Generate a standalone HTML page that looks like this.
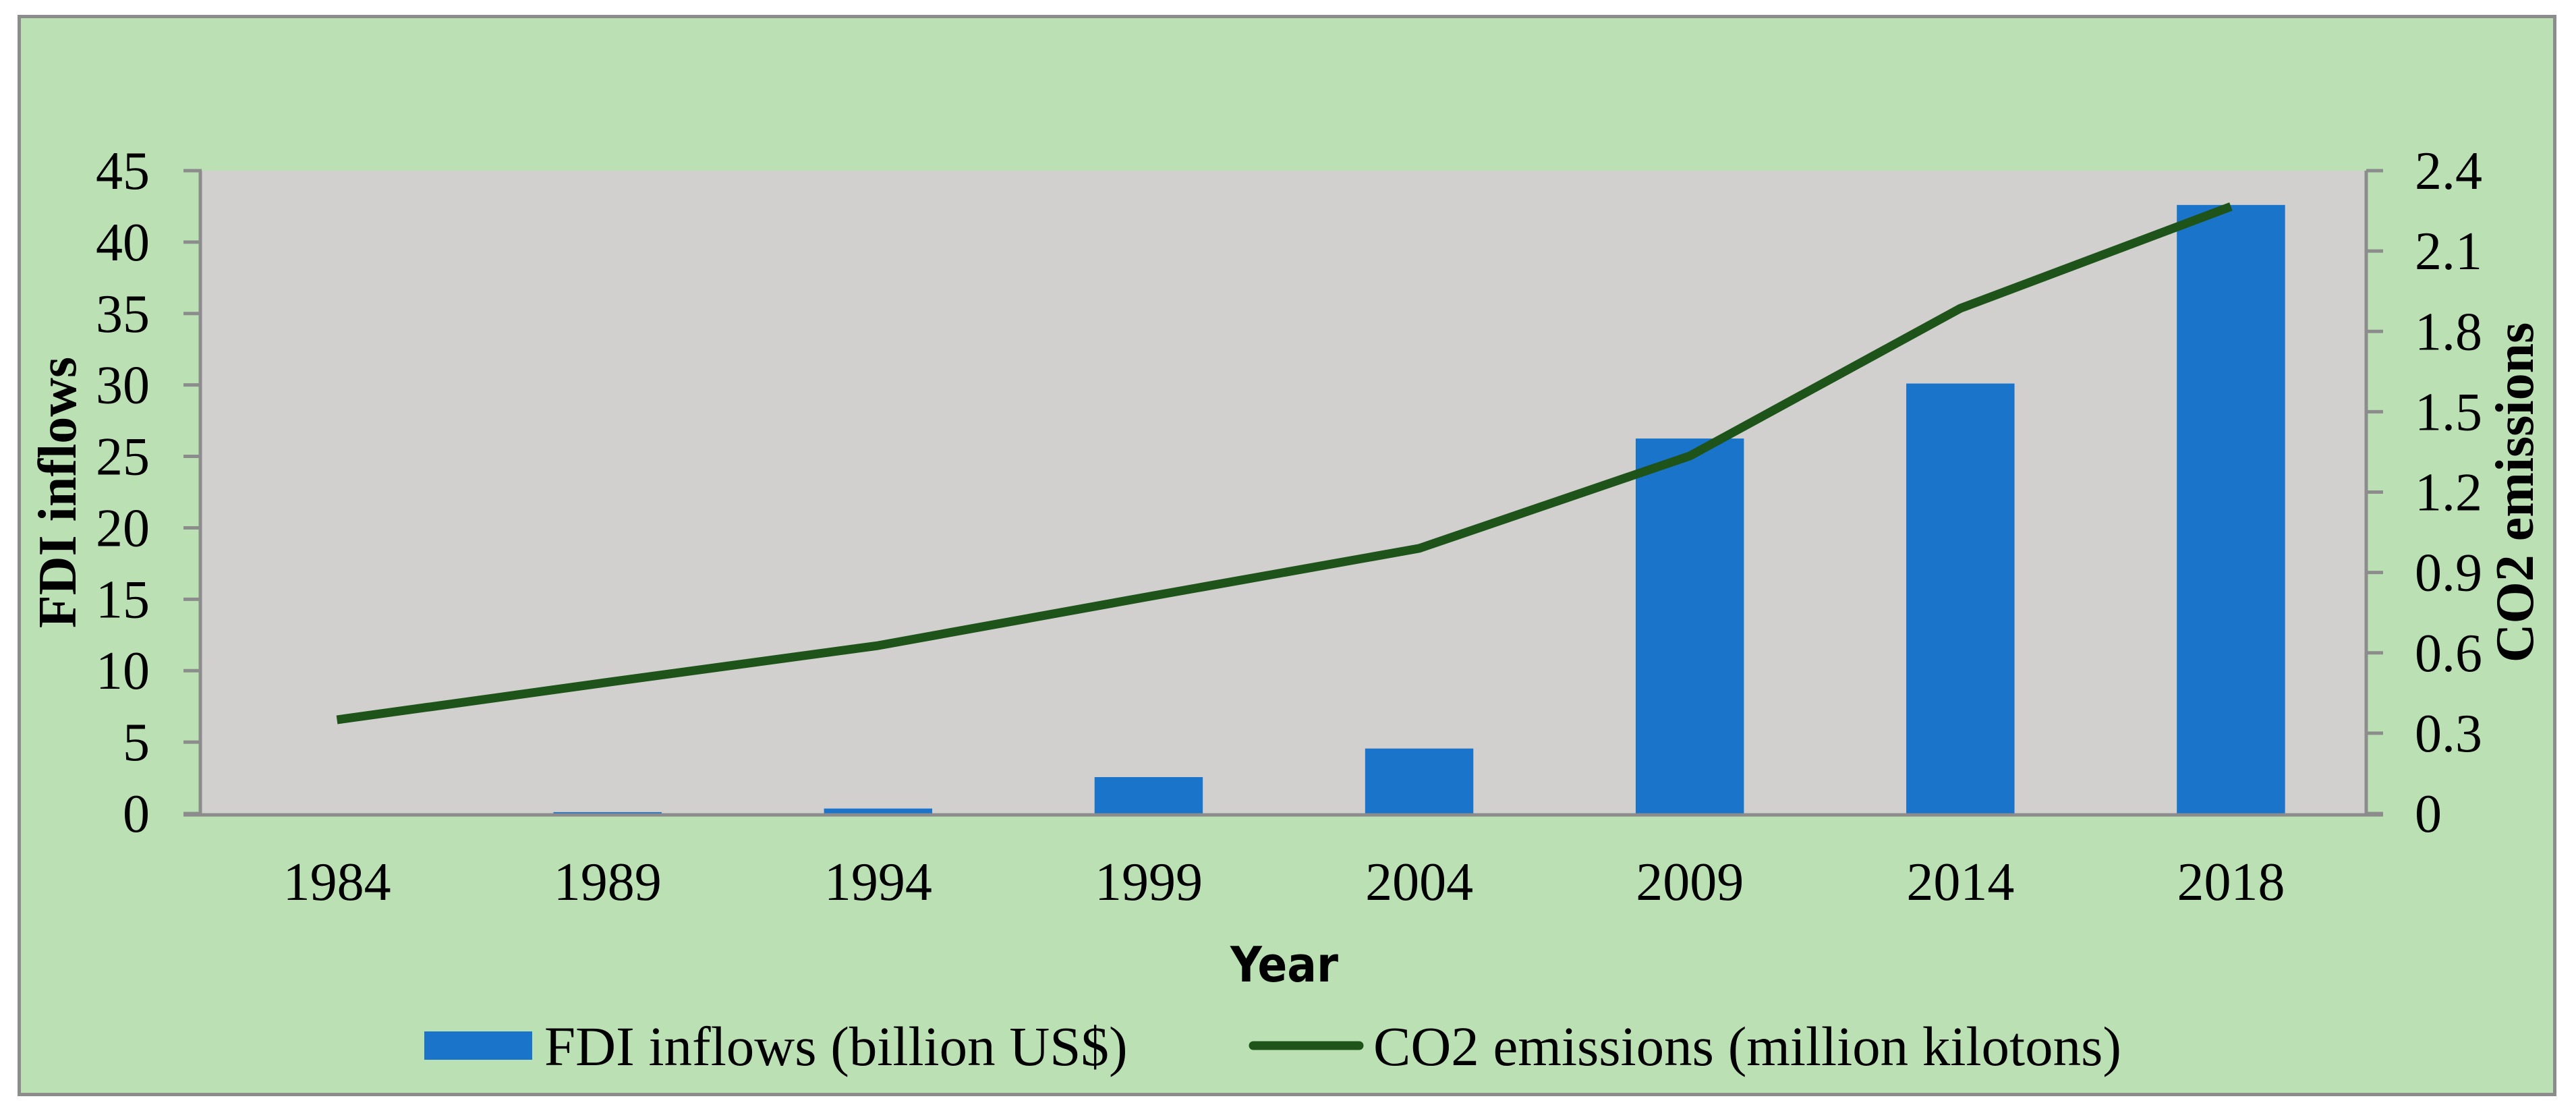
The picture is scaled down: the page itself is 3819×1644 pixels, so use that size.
<!DOCTYPE html>
<html><head><meta charset="utf-8"><style>
html,body{margin:0;padding:0;background:#fff;}
svg{display:block;}
text{font-family:"Liberation Serif",serif;fill:#000;}
</style></head><body>
<svg id="chart" width="3819" height="1644" viewBox="0 0 3819 1644" xmlns="http://www.w3.org/2000/svg">
<rect x="28.5" y="24.5" width="3759" height="1598" fill="#bae0b4" stroke="#8c8c8c" stroke-width="5"/>
<rect x="299" y="253" width="3209" height="953" fill="#d1d0ce"/>
<g id="bars"></g>
<g id="line"></g>
<g id="axes"></g>
<text transform="translate(112,730) rotate(-90)" text-anchor="middle" font-size="80" font-weight="bold">FDI inflows</text>
<text transform="translate(3755,730) rotate(-90)" text-anchor="middle" font-size="80" font-weight="bold">CO2 emissions</text>
<text x="1904" y="1455" text-anchor="middle" font-size="72" font-weight="bold" style="font-family:'DejaVu Sans Condensed','DejaVu Sans',sans-serif">Year</text>
<g>
<rect x="629" y="1529" width="160" height="42" fill="#1a74c9"/>
<text x="807" y="1579" font-size="83">FDI inflows (billion US$)</text>
<line x1="1858" y1="1550" x2="2015" y2="1550" stroke="#1e531a" stroke-width="13" stroke-linecap="round"/>
<text x="2036" y="1579" font-size="83">CO2 emissions (million kilotons)</text>
</g>
</svg>
<script>
const years = ["1984","1989","1994","1999","2004","2009","2014","2018"];
const fdi = [0.02, 0.1, 0.35, 2.55, 4.55, 26.25, 30.1, 42.6];
const co2 = [0.35, 0.49, 0.627, 0.81, 0.99, 1.335, 1.886, 2.266];
const leftTicks = [0,5,10,15,20,25,30,35,40,45];
const rightTicks = ["0","0.3","0.6","0.9","1.2","1.5","1.8","2.1","2.4"];

const NS = "http://www.w3.org/2000/svg";
const PL = 299, PR = 3508, PT = 253, PB = 1206;
const band = (PR - PL) / years.length;
function xc(i){ return PL + band * (i + 0.5); }
function yL(v){ return PB - (v / 45) * (PB - PT); }
function yR(v){ return PB - (v / 2.4) * (PB - PT); }
function mk(tag, attrs, parent){ const e = document.createElementNS(NS, tag); for (const k in attrs) e.setAttribute(k, attrs[k]); parent.appendChild(e); return e; }

const gb = document.getElementById('bars');
const bw = band * 0.4;
fdi.forEach((v, i) => {
  const r = mk('rect', {x: xc(i) - bw/2, y: yL(v), width: bw, height: PB - yL(v), fill: '#1a74c9'}, gb);
  
  
});

const gl = document.getElementById('line');
const pts = co2.map((v, i) => xc(i) + ',' + yR(v)).join(' ');
const pl = mk('polyline', {points: pts, fill: 'none', stroke: '#1e531a', 'stroke-width': 13, 'stroke-linejoin': 'round', 'stroke-linecap': 'butt'}, gl);



const ga = document.getElementById('axes');
const st = {stroke: '#8c8c8c', 'stroke-width': 5};
let a;
a = mk('line', Object.assign({x1: PL-2, y1: PT, x2: PL-2, y2: PB+2}, st), ga);


a = mk('line', Object.assign({x1: PR, y1: PT, x2: PR, y2: PB+2}, st), ga);


a = mk('line', Object.assign({x1: 272, y1: PB+2, x2: 3533, y2: PB+2}, st), ga);



leftTicks.forEach(v => {
  const y = yL(v);
  const t = mk('line', Object.assign({x1: 272, y1: y, x2: PL, y2: y}, st), ga);
  
  
  const l = mk('text', {x: 222, y: y + 27, 'text-anchor': 'end', 'font-size': 80}, ga);
  l.textContent = v;
  
  
});
rightTicks.forEach(s => {
  const y = yR(parseFloat(s));
  const t = mk('line', Object.assign({x1: PR, y1: y, x2: 3533, y2: y}, st), ga);
  
  
  const l = mk('text', {x: 3580, y: y + 27, 'text-anchor': 'start', 'font-size': 80}, ga);
  l.textContent = s;
  
  
});
years.forEach((s, i) => {
  const l = mk('text', {x: xc(i), y: 1334, 'text-anchor': 'middle', 'font-size': 80}, ga);
  l.textContent = s;
  
  
});
</script>
</body></html>
